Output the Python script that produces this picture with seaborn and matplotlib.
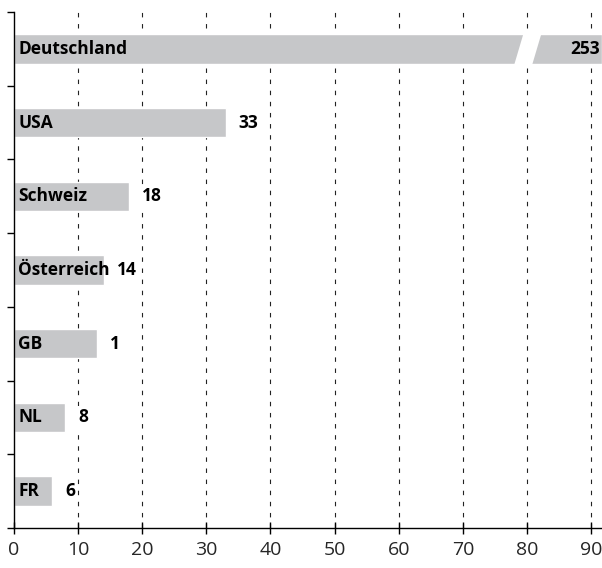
import matplotlib
matplotlib.use('Agg')
import matplotlib.pyplot as plt
import seaborn as sns
import pandas as pd
from matplotlib.patches import Polygon

# Daten
laender = ['Deutschland', 'USA', 'Schweiz', 'Österreich', 'GB', 'NL', 'FR']
werte = [253, 33, 18, 14, 13, 8, 6]
beschriftung = ['253', '33', '18', '14', '1', '8', '6']
x_ticks = [0, 10, 20, 30, 40, 50, 60, 70, 80, 90]

sns.set_theme(style='white')
plt.rcParams['font.family'] = ['Open Sans', 'DejaVu Sans']

x_max = 91.7
df = pd.DataFrame({'land': laender, 'wert': [min(w, x_max) for w in werte]})

fig = plt.figure(figsize=(6.02, 5.68), dpi=100)
ax = fig.add_axes([0.023, 0.0704, 0.977, 0.9085])

# Gitterlinien hinter den Balken
for t in x_ticks[1:]:
    ax.axvline(t, color='#222222', linestyle=(0, (4, 6)), linewidth=0.8, zorder=0)

sns.barplot(data=df, x='wert', y='land', orient='h', color='#c6c7c9',
            width=0.4, ax=ax, zorder=2, saturation=1)

# Bruch im Deutschland-Balken
ax.add_patch(Polygon([(78.0, 0.22), (80.8, 0.22), (82.3, -0.22), (79.5, -0.22)],
                     closed=True, facecolor='white', edgecolor='none', zorder=3))

for i, (land, w, txt) in enumerate(zip(laender, werte, beschriftung)):
    ax.text(0.7, i, land, va='center', ha='left', fontsize=12.5, fontweight='bold',
            color='black', zorder=4)
    if w > x_max:
        ax.text(x_max - 0.4, i, txt, va='center', ha='right', fontsize=12.5,
                fontweight='bold', color='black', zorder=4)
    else:
        # weisser Hintergrund unterbricht die Gitterlinien wie im Original
        ax.text(w + 2.0, i, txt, va='center', ha='left', fontsize=12.5,
                fontweight='bold', color='black', zorder=4,
                bbox=dict(facecolor='white', edgecolor='none', pad=1.5))

ax.set_xlim(0, x_max)
ax.set_ylim(6.5, -0.5)
ax.set_xticks(x_ticks)
ax.set_xticklabels([str(t) for t in x_ticks], fontsize=14)
ax.set_yticks([i - 0.5 for i in range(len(laender) + 1)])
ax.set_yticklabels([])
ax.set_xlabel('')
ax.set_ylabel('')

for s in ['top', 'right']:
    ax.spines[s].set_visible(False)
for s in ['left', 'bottom']:
    ax.spines[s].set_color('black')
    ax.spines[s].set_linewidth(1.0)

ax.tick_params(axis='x', direction='inout', length=8, width=1.0, color='black',
               bottom=True, pad=5)
ax.tick_params(axis='y', direction='out', length=5, width=1.0, color='black', left=True)

fig.savefig('out.png', dpi=100)
